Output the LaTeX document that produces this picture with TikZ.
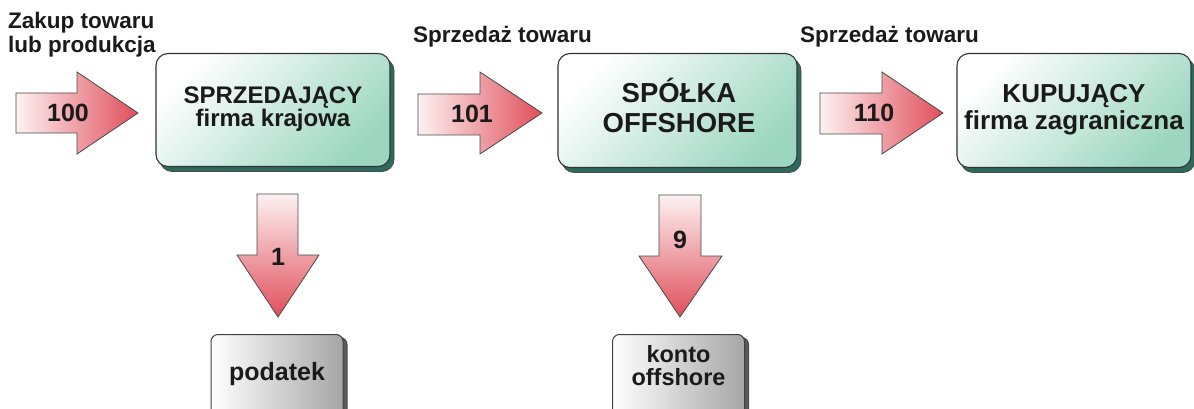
\documentclass[tikz,border=0pt]{standalone}
\usepackage{fontspec}
\setmainfont{Liberation Sans}
\usetikzlibrary{shadows}
\definecolor{txt}{HTML}{1A1A1A}
\definecolor{mint}{HTML}{9CD6C1}
\definecolor{shteal}{HTML}{2C6A5E}
\definecolor{pinkw}{HTML}{FDF2F2}
\definecolor{redar}{HTML}{E04E5A}
\definecolor{edge}{HTML}{4A4A4A}
\tikzset{
  bigbox/.style={draw=black!80, line width=1.1pt, rounded corners=12pt,
    left color=white, right color=mint, shading angle=45,
    general shadow={fill=shteal, draw=black!70, line width=0.8pt, shadow xshift=4pt, shadow yshift=-5pt},
    align=center, text=txt, inner sep=0pt},
  smallbox/.style={draw=black!75, line width=1pt, rounded corners=7pt,
    left color=white, right color=black!35,
    general shadow={fill=black!65, draw=black!70, shadow xshift=4pt, shadow yshift=-3pt},
    align=center, text=txt, inner sep=0pt, minimum width=132pt, minimum height=90pt},
  rarrow/.style={draw=edge, line width=0.8pt, left color=pinkw, right color=redar},
  darrow/.style={draw=edge, line width=0.8pt, top color=pinkw, bottom color=redar},
  lbl/.style={text=txt, font=\bfseries\fontsize{22.5}{24}\selectfont, inner sep=0pt, align=left},
  num/.style={text=txt, font=\bfseries\fontsize{25}{28}\selectfont, inner sep=0pt}
}
\begin{document}
\begin{tikzpicture}[x=1pt,y=-1pt]
\useasboundingbox (0,0) rectangle (1194,409);
% labels
\node[lbl, anchor=north west] (zakup) at (8,12) {Zakup towaru\\lub produkcja};
\node[lbl, anchor=base west] (sp1) at (413,43) {Sprzedaż towaru};
\node[lbl, anchor=base west] (sp2) at (800,43) {Sprzedaż towaru};
% big boxes
\node[bigbox, minimum width=234pt, minimum height=113pt] (sell) at (273,110) {};
\node[text=txt, align=center, inner sep=0pt, font=\bfseries\fontsize{24}{23}\selectfont,
  anchor=base] (sellt) at (273,127) {SPRZEDAJĄCY\\firma krajowa};
\node[bigbox, minimum width=239pt, minimum height=114pt] (off) at (677.5,110.5) {};
\node[text=txt, align=center, inner sep=0pt, font=\bfseries\fontsize{27.5}{29}\selectfont,
  anchor=base] (offt) at (679,132) {SPÓŁKA\\OFFSHORE};
\node[bigbox, minimum width=234pt, minimum height=114pt] (buy) at (1074,110.5) {};
\node[text=txt, align=center, inner sep=0pt, font=\bfseries\fontsize{26}{27}\selectfont,
  anchor=base] (buyt) at (1074,130) {KUPUJĄCY\\firma zagraniczna};
% small boxes
\node[smallbox, anchor=north] (tax) at (277,334) {};
\node[smallbox, anchor=north] (acc) at (678.5,334) {};
\node[text=txt, font=\bfseries\fontsize{25}{28}\selectfont, inner sep=0pt, anchor=base] (taxt) at (277,380) {podatek};
\node[text=txt, font=\bfseries\fontsize{23.5}{23}\selectfont, inner sep=0pt, align=center, anchor=base] (acct) at (678.5,385) {konto\\offshore};
% right arrows
\path[rarrow] (16,93) coordinate (a1s) -- (77,93) -- (77,72) -- (138,113) coordinate (a1t) -- (77,154) -- (77,133) -- (16,133) -- cycle;
\path[rarrow] (418,94) coordinate (a2s) -- (480,94) -- (480,72) -- (542,113) coordinate (a2t) -- (480,154) -- (480,135) -- (418,135) -- cycle;
\path[rarrow] (820,93) coordinate (a3s) -- (882,93) -- (882,72) -- (943,113) coordinate (a3t) -- (882,154) -- (882,134) -- (820,134) -- cycle;
\node[num] (n100) at (68,113) {100};
\node[num] (n101) at (472,114) {101};
\node[num] (n110) at (874,113) {110};
% down arrows
\path[darrow] (257,194) coordinate (d1s) -- (298,194) -- (298,255) -- (319,255) -- (278,317) coordinate (d1t) -- (237,255) -- (257,255) -- cycle;
\path[darrow] (659,195) coordinate (d2s) -- (701,195) -- (701,256) -- (722,256) -- (680,317) coordinate (d2t) -- (639,256) -- (659,256) -- cycle;
\node[num] (n1) at (278,257) {1};
\node[num] (n9) at (680,240) {9};
\end{tikzpicture}
\end{document}
